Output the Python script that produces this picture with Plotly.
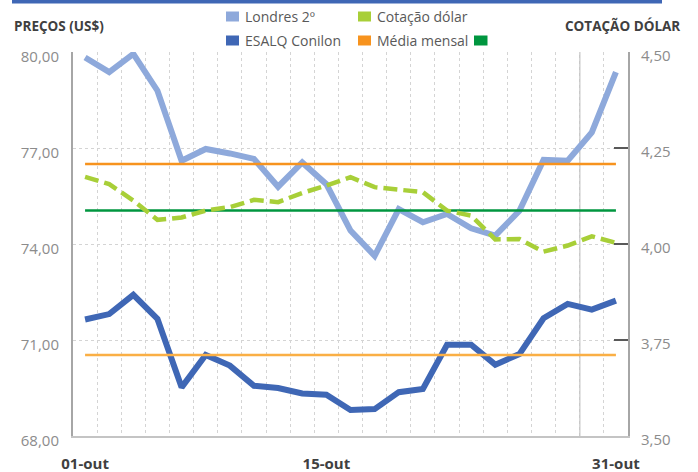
import plotly.graph_objects as go

# ---------------- data ----------------
dates = ["01-out", "02-out", "03-out", "04-out", "07-out", "08-out", "09-out",
         "10-out", "11-out", "14-out", "15-out", "16-out", "17-out", "18-out",
         "21-out", "22-out", "23-out", "24-out", "25-out", "28-out", "29-out",
         "30-out", "31-out"]

londres = [79.83, 79.37, 79.94, 78.79, 76.60, 76.97, 76.83, 76.66, 75.79,
           76.55, 75.87, 74.42, 73.63, 75.09, 74.68, 74.94, 74.49, 74.26,
           75.04, 76.63, 76.60, 77.49, 79.37]

esalq = [71.64, 71.81, 72.41, 71.66, 69.52, 70.53, 70.20, 69.57, 69.50,
         69.33, 69.29, 68.81, 68.84, 69.37, 69.47, 70.85, 70.85, 70.23,
         70.56, 71.68, 72.13, 71.95, 72.23]

dolar = [4.175, 4.156, 4.113, 4.063, 4.069, 4.087, 4.096, 4.115, 4.109,
         4.133, 4.152, 4.174, 4.148, 4.141, 4.135, 4.087, 4.074, 4.012,
         4.013, 3.980, 3.996, 4.020, 4.003]

media_londres = 76.50
media_esalq = 70.53
media_dolar = 4.087

shown_ticks = ["01-out", "15-out", "31-out"]
left_ticks = [68, 71, 74, 77, 80]
right_ticks = [3.50, 3.75, 4.00, 4.25, 4.50]

# ---------------- styling ----------------
C_LONDRES = "#8EA9DB"
C_ESALQ = "#3F67B5"
C_DOLAR = "#A8CF38"
C_MEDIA_L = "#F7931E"
C_MEDIA_E = "#FAAF45"
C_MEDIA_D = "#00963F"
FONT = "Open Sans"

idx = list(range(len(dates)))

fig = go.Figure()
fig.add_trace(go.Scatter(x=idx, y=londres, mode="lines", name="Londres 2º",
                         line=dict(color=C_LONDRES, width=6), showlegend=False))
fig.add_trace(go.Scatter(x=idx, y=esalq, mode="lines", name="ESALQ Conilon",
                         line=dict(color=C_ESALQ, width=6), showlegend=False))
fig.add_trace(go.Scatter(x=idx, y=[media_londres] * len(idx), mode="lines",
                         line=dict(color=C_MEDIA_L, width=2.5), showlegend=False))
fig.add_trace(go.Scatter(x=idx, y=[media_esalq] * len(idx), mode="lines",
                         line=dict(color=C_MEDIA_E, width=2.5), showlegend=False))
fig.add_trace(go.Scatter(x=idx, y=[media_dolar] * len(idx), mode="lines", yaxis="y2",
                         line=dict(color=C_MEDIA_D, width=2.5), showlegend=False))
fig.add_trace(go.Scatter(x=idx, y=dolar, mode="lines", name="Cotação dólar", yaxis="y2",
                         line=dict(color=C_DOLAR, width=4.5, dash="14px,6px"),
                         showlegend=False))

# separator between last days
fig.add_shape(type="line", xref="x", yref="paper", x0=20.5, x1=20.5, y0=0, y1=1,
              line=dict(color="#C8C8C8", width=1.5), layer="below")

# geometry helpers (pixel -> paper)
L, R, T, B = 73, 70, 52, 36
W, H = 698, 472
PW, PH = W - L - R, H - T - B


def px(x):
    return (x - L) / PW


def py(y):
    return (H - B - y) / PH


# top blue bar
fig.add_shape(type="rect", xref="paper", yref="paper", x0=px(12), x1=px(662),
              y0=py(3.5), y1=py(-1), fillcolor=C_ESALQ, line=dict(width=0))

# legend (squares + text)
legend_items = [
    (226, 16.5, C_LONDRES, "Londres 2º"),
    (226, 40.5, C_ESALQ, "ESALQ Conilon"),
    (358, 16.5, C_DOLAR, "Cotação dólar"),
    (358, 40.5, C_MEDIA_L, "Média mensal"),
]
for x0, yc, col, txt in legend_items:
    fig.add_shape(type="rect", xref="paper", yref="paper", x0=px(x0), x1=px(x0 + 13),
                  y0=py(yc + 5), y1=py(yc - 5), fillcolor=col, line=dict(width=0))
    fig.add_annotation(xref="paper", yref="paper", x=px(x0 + 17), y=py(yc),
                       text=txt, showarrow=False, xanchor="left", yanchor="middle",
                       font=dict(family=FONT, size=14, color="#595959"))
fig.add_shape(type="rect", xref="paper", yref="paper", x0=px(474), x1=px(487.5),
              y0=py(45.5), y1=py(35.5), fillcolor=C_MEDIA_D, line=dict(width=0))

# axis titles
fig.add_annotation(xref="paper", yref="paper", x=px(12), y=py(26), text="<b>PREÇOS (US$)</b>",
                   showarrow=False, xanchor="left", yanchor="middle",
                   font=dict(family=FONT, size=13.5, color="#404040"))
fig.add_annotation(xref="paper", yref="paper", x=px(682), y=py(26), text="<b>COTAÇÃO DÓLAR</b>",
                   showarrow=False, xanchor="right", yanchor="middle",
                   font=dict(family=FONT, size=13.5, color="#404040"))

fig.update_layout(
    width=W, height=H,
    margin=dict(l=L, r=R, t=T, b=B, pad=0, autoexpand=False),
    paper_bgcolor="white", plot_bgcolor="white",
    separators=",.",
    font=dict(family=FONT),
    showlegend=False,
    xaxis=dict(
        automargin=False,
        range=[-0.5, len(idx) - 0.5],
        tickmode="array",
        tickvals=[dates.index(d) for d in shown_ticks],
        ticktext=["<b>%s</b>" % d for d in shown_ticks],
        tickfont=dict(family=FONT, size=15, color="#404040"),
        showgrid=False, zeroline=False,
        showline=True, linecolor="#C4C4C4", linewidth=2,
        ticks="", ticklabelstandoff=13,
        minor=dict(tick0=0.5, dtick=1, showgrid=True, gridcolor="#D4D4D4",
                   gridwidth=1, griddash="dot", ticks=""),
    ),
    yaxis=dict(
        automargin=False,
        range=[68, 80],
        tickmode="array", tickvals=left_ticks, tickformat=".2f",
        tickfont=dict(family=FONT, size=15, color="#8C8C8C"),
        showgrid=True, gridcolor="#D4D4D4", gridwidth=1, griddash="dot",
        zeroline=False,
        showline=True, linecolor="#A6A6A6", linewidth=2,
        ticks="", ticklabelstandoff=9, ticklabelshift=5,
    ),
    yaxis2=dict(
        automargin=False,
        range=[3.5, 4.5], overlaying="y", side="right",
        tickmode="array", tickvals=right_ticks, tickformat=".2f",
        tickfont=dict(family=FONT, size=15, color="#8C8C8C"),
        showgrid=False, zeroline=False,
        showline=True, linecolor="#A6A6A6", linewidth=2,
        ticks="inside", ticklen=14, tickwidth=1.5, tickcolor="#595959",
        ticklabelstandoff=8, ticklabelshift=4,
    ),
)

fig.write_html("out.html", config={"displayModeBar": False},
               post_script="document.body.style.margin='0';document.body.style.overflow='hidden';")
